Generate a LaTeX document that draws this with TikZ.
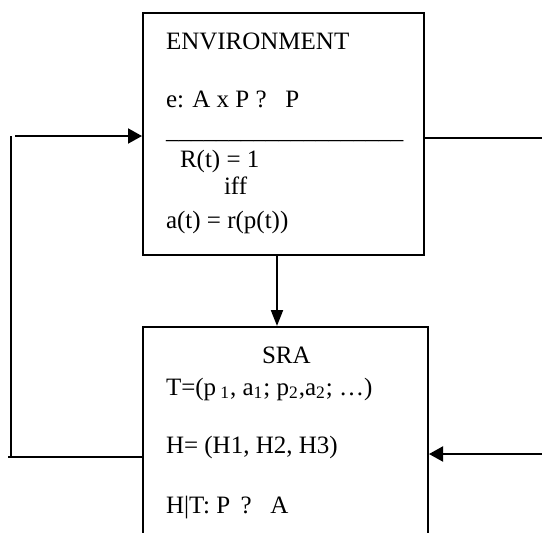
\documentclass[tikz,border=0pt]{standalone}
\usepackage{fontspec}
\setmainfont{Liberation Serif}
\usetikzlibrary{arrows.meta}
\begin{document}
\begin{tikzpicture}[x=0.5pt,y=-0.5pt,
  line width=1pt,
  blockbox/.style={draw, rectangle, inner sep=0pt, line width=1pt},
  txt/.style={anchor=base west, inner sep=0pt, font=\fontsize{12.5}{15}\selectfont},
  flow/.style={-{Triangle[length=7pt,width=7.5pt]}},
  flowdown/.style={-{Triangle[length=8pt,width=6pt]}}]
\useasboundingbox (0,0) rectangle (542,532);
\begin{scope}
\clip (0,0) rectangle (542,532);

% the two blocks
\node[blockbox, minimum width=140.5pt, minimum height=121pt] (env) at (283.5,134) {};
\node[blockbox, minimum width=142.5pt, minimum height=116.5pt] (sra) at (285.5,443.5) {};

% text of the environment block
\node[txt] (envtitle) at (165,49) {ENVIRONMENT};
\node[txt] (envmap) at (165,107) {e: A x P ?\hspace{0.75em}P};
\node[txt] (envrule) at (165,138) {\_\_\_\_\_\_\_\_\_\_\_\_\_\_\_\_\_\_\_};
\node[txt] (envr) at (179,167) {R(t) = 1};
\node[txt] (enviff) at (223,194) {iff};
\node[txt] (enva) at (165,228) {a(t) = r(p(t))};

% text of the SRA block
\node[txt] (sratitle) at (261,363) {SRA};
\node[txt] (srat) at (165,395) {T=(p\,\textsubscript{1}, a\textsubscript{1}; p\textsubscript{2},a\textsubscript{2}; \dots)};
\node[txt] (srah) at (165,453) {H= (H1, H2, H3)};
\node[txt] (srahm) at (165,513) {H|T: P\, ?\hspace{0.75em}A};

% connector coordinates
\coordinate (mid) at (277,0);
\coordinate (lefttop) at (15,136);
\coordinate (leftcol) at (11,0);
\coordinate (leftbot) at (8,457);
\coordinate (righttop) at (542,138);
\coordinate (rightbot) at (542,454);

% environment -> SRA
\draw[flowdown] (env.south -| mid) -- (sra.north -| mid);

% feedback loop on the left
\draw (sra.west |- leftbot) -- (leftbot);
\draw (leftcol |- leftbot) -- (leftcol |- lefttop);
\draw[flow] (lefttop) -- (env.west |- lefttop);

% lines on the right
\draw (env.east |- righttop) -- (righttop);
\draw[flow] (rightbot) -- (sra.east |- rightbot);
\end{scope}
\end{tikzpicture}
\end{document}
